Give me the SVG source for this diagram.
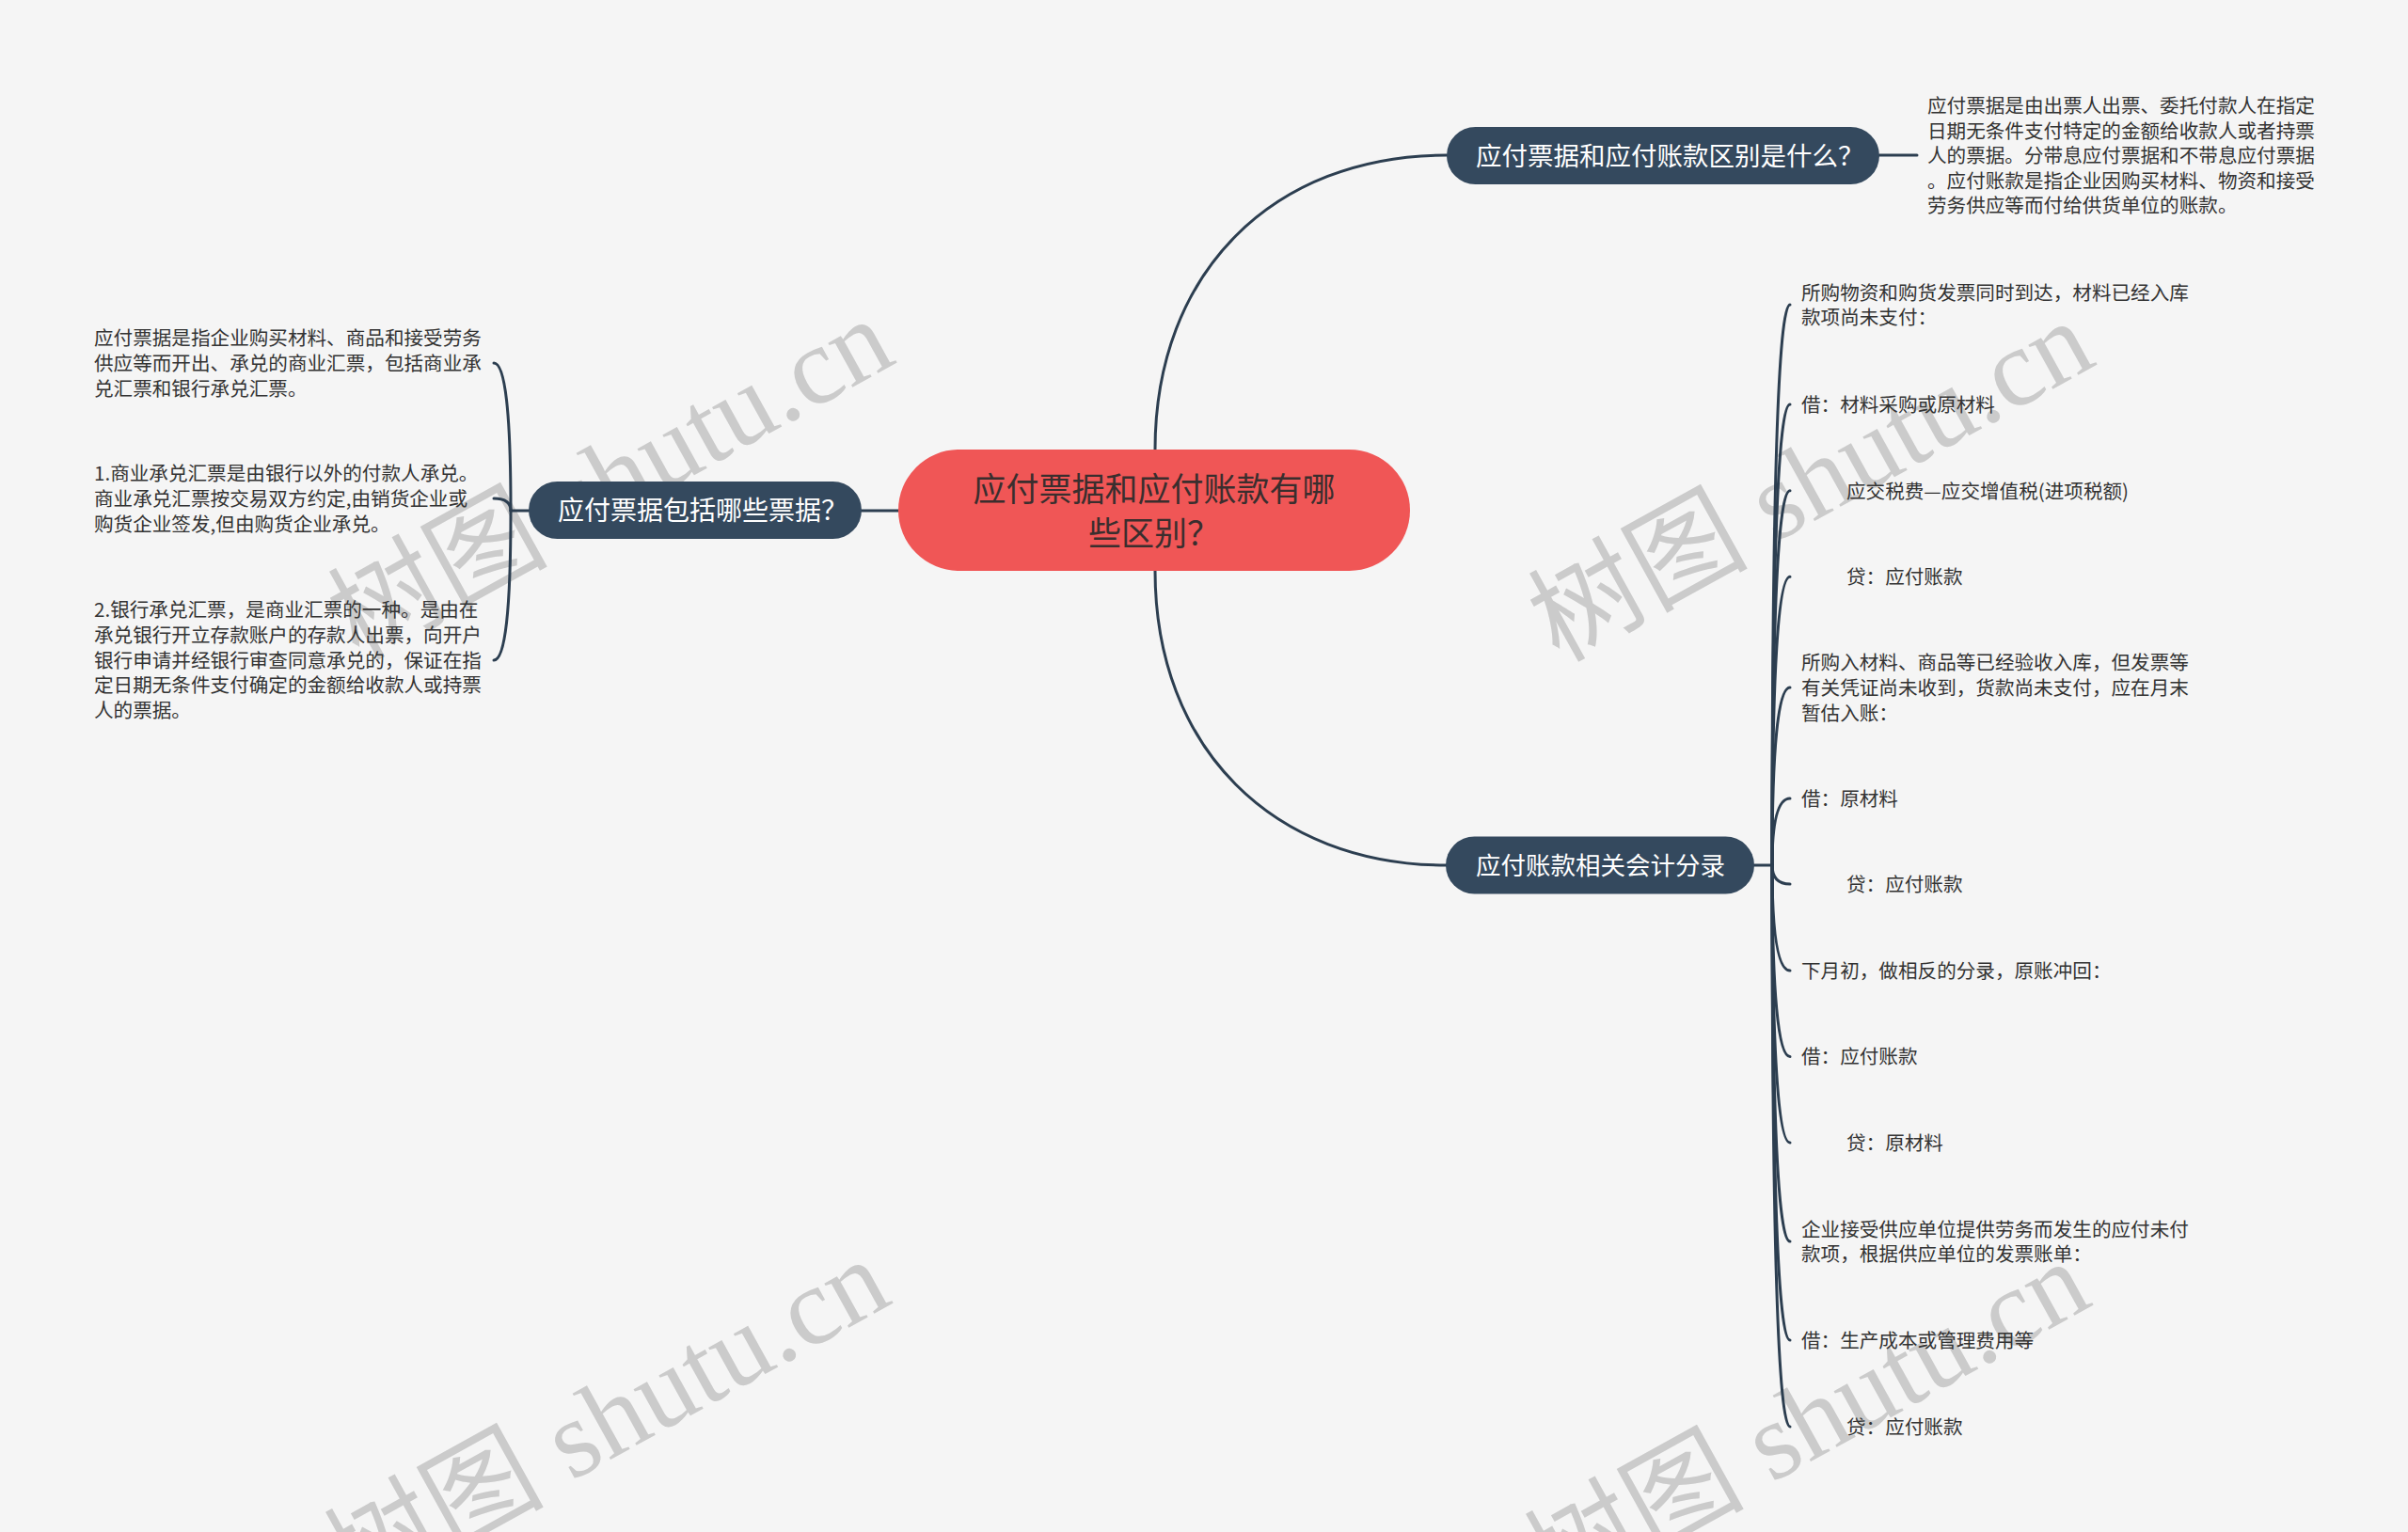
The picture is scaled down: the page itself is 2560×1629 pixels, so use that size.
<svg xmlns="http://www.w3.org/2000/svg" width="2560" height="1629" viewBox="0 0 2560 1629">
<style>
.bg{fill:#f5f5f5}
.wm{font-family:"Liberation Serif","Noto Sans CJK SC",serif;font-size:117px;fill:#cbcbcb}
.conn{fill:none;stroke:#2c3e50;stroke-width:3;stroke-linecap:round}
.root-box{fill:#f05656}
.root-txt{font-family:"Noto Sans CJK SC","Noto Sans",sans-serif;font-size:35px;fill:#3a2e2e;text-anchor:middle}
.sub-box{fill:#34495e}
.sub-txt{font-family:"Noto Sans CJK SC","Noto Sans",sans-serif;fill:#ffffff}
.leaf{font-family:"Noto Sans CJK SC","Noto Sans",sans-serif;font-size:20.6px;fill:#333333}
</style>
<rect class="bg" x="0" y="0" width="2560" height="1629"/>

<g id="watermarks">
<text class="wm" transform="translate(381,703) rotate(-29)">树图 shutu.cn</text>
<text class="wm" transform="translate(1657,705) rotate(-29)">树图 shutu.cn</text>
<text class="wm" transform="translate(377,1703) rotate(-29)">树图 shutu.cn</text>
<text class="wm" transform="translate(1653,1705) rotate(-29)">树图 shutu.cn</text>
</g>

<g id="connectors">
<path class="conn" d="M1228 543 L1228 478 C1228 290 1353 165 1538 165"/>
<path class="conn" d="M1228 543 L1228 607 C1228 795 1353 920 1538 920"/>
<path class="conn" d="M955 543 L916 543"/>
<path class="conn" d="M1998 165 L2038 165"/>
<path class="conn" d="M562 543 L543 543"/>
<path class="conn" d="M543 543 Q543 386 525 386"/>
<path class="conn" d="M543 543 Q543 530 525 530"/>
<path class="conn" d="M543 543 Q543 702 525 702"/>
<path class="conn" d="M1865 920 L1884 920"/>
<path class="conn" d="M1884 920 Q1884 324 1903 324"/>
<path class="conn" d="M1884 920 Q1884 430 1903 430"/>
<path class="conn" d="M1884 920 Q1884 521.7 1903 521.7"/>
<path class="conn" d="M1884 920 Q1884 613.3 1903 613.3"/>
<path class="conn" d="M1884 920 Q1884 731 1903 731"/>
<path class="conn" d="M1884 920 Q1884 849 1903 849"/>
<path class="conn" d="M1884 920 Q1884 940 1903 940"/>
<path class="conn" d="M1884 920 Q1884 1032 1903 1032"/>
<path class="conn" d="M1884 920 Q1884 1123.5 1903 1123.5"/>
<path class="conn" d="M1884 920 Q1884 1215 1903 1215"/>
<path class="conn" d="M1884 920 Q1884 1320 1903 1320"/>
<path class="conn" d="M1884 920 Q1884 1425 1903 1425"/>
<path class="conn" d="M1884 920 Q1884 1517 1903 1517"/>
</g>

<g id="root">
<rect class="root-box" x="955" y="478" width="544" height="129" rx="64.5"/>
<text class="root-txt" x="1227" y="533">应付票据和应付账款有哪</text>
<text class="root-txt" x="1227" y="580">些区别？</text>
</g>

<g id="node-diff">
<rect class="sub-box" x="1538" y="135" width="460" height="61" rx="30.5"/>
<text class="sub-txt" x="1569" y="175.5" font-size="27.5">应付票据和应付账款区别是什么？</text>
</g>

<g id="node-diff-text">
<text class="leaf" x="2049" y="120.3">应付票据是由出票人出票、委托付款人在指定</text>
<text class="leaf" x="2049" y="146.8">日期无条件支付特定的金额给收款人或者持票</text>
<text class="leaf" x="2049" y="173.3">人的票据。分带息应付票据和不带息应付票据</text>
<text class="leaf" x="2049" y="199.8">。应付账款是指企业因购买材料、物资和接受</text>
<text class="leaf" x="2049" y="226.3">劳务供应等而付给供货单位的账款。</text>
</g>

<g id="node-types">
<rect class="sub-box" x="562" y="512" width="354" height="61" rx="30.5"/>
<text class="sub-txt" x="593" y="553" font-size="28">应付票据包括哪些票据？</text>
</g>

<g id="node-types-1">
<text class="leaf" x="100" y="367.1">应付票据是指企业购买材料、商品和接受劳务</text>
<text class="leaf" x="100" y="393.8">供应等而开出、承兑的商业汇票，包括商业承</text>
<text class="leaf" x="100" y="420.5">兑汇票和银行承兑汇票。</text>
</g>
<g id="node-types-2">
<text class="leaf" x="100" y="511.1">1.商业承兑汇票是由银行以外的付款人承兑。</text>
<text class="leaf" x="100" y="537.8">商业承兑汇票按交易双方约定,由销货企业或</text>
<text class="leaf" x="100" y="564.5">购货企业签发,但由购货企业承兑。</text>
</g>
<g id="node-types-3">
<text class="leaf" x="100" y="656.1">2.银行承兑汇票，是商业汇票的一种。是由在</text>
<text class="leaf" x="100" y="682.8">承兑银行开立存款账户的存款人出票，向开户</text>
<text class="leaf" x="100" y="709.5">银行申请并经银行审查同意承兑的，保证在指</text>
<text class="leaf" x="100" y="736.1">定日期无条件支付确定的金额给收款人或持票</text>
<text class="leaf" x="100" y="762.8">人的票据。</text>
</g>

<g id="node-entries">
<rect class="sub-box" x="1537" y="889.5" width="328" height="61" rx="30.5"/>
<text class="sub-txt" x="1569" y="930" font-size="26.5">应付账款相关会计分录</text>
</g>

<g id="entry-1"><text class="leaf" x="1915" y="318.5">所购物资和购货发票同时到达，材料已经入库</text><text class="leaf" x="1915" y="345.1">款项尚未支付：</text></g>
<g id="entry-2"><text class="leaf" x="1915" y="437.8">借：材料采购或原材料</text></g>
<g id="entry-3"><text class="leaf" x="1963" y="529.5">应交税费—应交增值税(进项税额)</text></g>
<g id="entry-4"><text class="leaf" x="1963" y="621.1">贷：应付账款</text></g>
<g id="entry-5"><text class="leaf" x="1915" y="712.1">所购入材料、商品等已经验收入库，但发票等</text><text class="leaf" x="1915" y="738.8">有关凭证尚未收到，货款尚未支付，应在月末</text><text class="leaf" x="1915" y="765.5">暂估入账：</text></g>
<g id="entry-6"><text class="leaf" x="1915" y="856.8">借：原材料</text></g>
<g id="entry-7"><text class="leaf" x="1963" y="947.8">贷：应付账款</text></g>
<g id="entry-8"><text class="leaf" x="1915" y="1039.8">下月初，做相反的分录，原账冲回：</text></g>
<g id="entry-9"><text class="leaf" x="1915" y="1131.3">借：应付账款</text></g>
<g id="entry-10"><text class="leaf" x="1963" y="1222.8">贷：原材料</text></g>
<g id="entry-11"><text class="leaf" x="1915" y="1314.5">企业接受供应单位提供劳务而发生的应付未付</text><text class="leaf" x="1915" y="1341.1">款项，根据供应单位的发票账单：</text></g>
<g id="entry-12"><text class="leaf" x="1915" y="1432.8">借：生产成本或管理费用等</text></g>
<g id="entry-13"><text class="leaf" x="1963" y="1524.8">贷：应付账款</text></g>
</svg>
